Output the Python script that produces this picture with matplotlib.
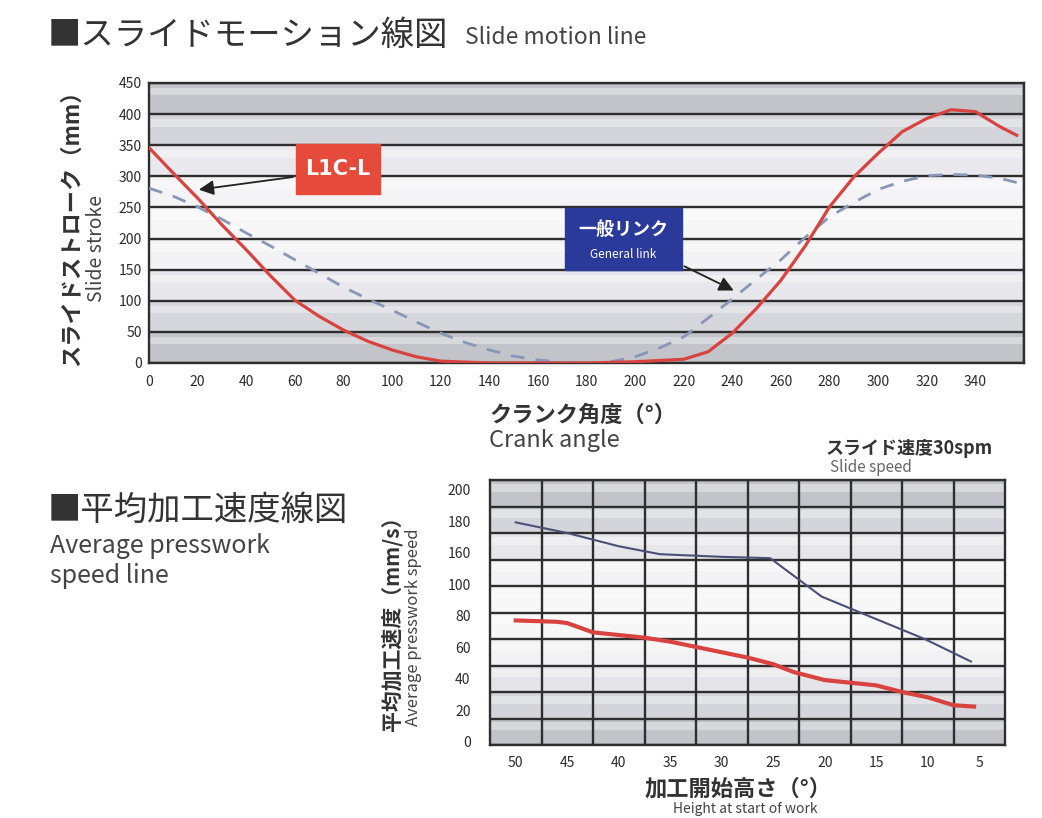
import numpy as np
import matplotlib.pyplot as plt
from matplotlib.patches import Rectangle

plt.rcParams['font.family'] = ['Noto Sans CJK JP', 'DejaVu Sans']

# --- slide motion line (top chart) ---
crank_deg = [0, 10, 20, 30, 40, 50, 60, 70, 80, 90, 100, 110, 120, 140, 160,
             180, 200, 210, 220, 230, 240, 250, 260, 270, 280, 290, 300, 310,
             320, 330, 340, 350, 357]
stroke_l1cl = [346, 305, 265, 222, 182, 140, 101, 75, 53, 35, 21, 10, 3, 0, 0,
               0, 2, 4, 6, 18, 48, 88, 133, 188, 251, 299, 337, 372,
               393, 407, 404, 380, 366]
link_deg = [0, 10, 20, 30, 40, 50, 60, 70, 80, 90, 100, 110, 120, 130, 140,
            150, 160, 170, 180, 190, 200, 210, 220, 230, 240, 250, 260, 270,
            280, 290, 300, 310, 320, 330, 340, 350, 357]
stroke_general = [281, 268, 251, 231, 209, 188, 166, 144, 122, 103, 85, 66, 48,
                  33, 21, 11, 5, 1, 0, 2, 10, 24, 42, 72, 103, 135, 166, 202,
                  235, 258, 279, 292, 301, 303, 302, 297, 290]
crank_ticks = list(range(0, 341, 20))
stroke_ticks = list(range(0, 451, 50))

# --- average presswork speed line (bottom chart) ---
height_general = [50, 45, 40, 36, 30, 25.3, 20.3, 15, 10.3, 5.8]
speed_general = [168, 160, 150, 144, 142, 141, 112, 95, 80, 63]
height_l1cl = [50, 46, 45, 42.5, 40, 37.5, 35, 32.5, 30, 27.5, 25, 23, 20,
               17.5, 15, 12.5, 10, 7.5, 5.5]
speed_l1cl = [94, 93, 92, 85, 83, 81, 78, 74, 70, 66, 61, 55, 49,
              47, 45, 40, 36, 30, 29]
height_ticks = [50, 45, 40, 35, 30, 25, 20, 15, 10, 5]
speed_tick_labels = ['0', '20', '40', '60', '80', '100', '160', '180', '200']

W, H = 1042, 818
fig = plt.figure(figsize=(W / 100, H / 100), dpi=100)


def fx(x):
    return x / W


def fy(y):
    return 1 - y / H


grid_c = '#2e2e2e'
red_c = '#d8433f'
tick_c = '#2a2a2a'

# ---------------- top chart ----------------
ax = fig.add_axes([fx(149), fy(363), fx(1024) - fx(149), fy(83) - fy(363)])
ax.set_xlim(0, 360)
ax.set_ylim(0, 450)
top_bands = ['#c3c4ca', '#d6d7dc', '#e8e8ec', '#f3f3f5', '#f7f7f8',
             '#f4f4f6', '#e9e9ed', '#d4d5da', '#c3c4ca']
for k, c in enumerate(top_bands):
    ax.axhspan(k * 50, k * 50 + 50, color=c, lw=0, zorder=0)
    ax.axhspan(k * 50 + 30, k * 50 + 42, color='white', alpha=0.35, lw=0, zorder=0)

ax.set_xticks(crank_ticks)
ax.set_xticks(range(0, 361, 20), minor=True)
ax.set_yticks(stroke_ticks)
ax.grid(True, which='minor', axis='x', color=grid_c, lw=1.7, zorder=1)
ax.grid(True, which='major', axis='y', color=grid_c, lw=1.7, zorder=1)
ax.tick_params(which='both', length=0)
ax.tick_params(axis='x', pad=9, labelsize=10, labelcolor=tick_c)
ax.tick_params(axis='y', pad=5, labelsize=10, labelcolor=tick_c)
for s in ax.spines.values():
    s.set_color(grid_c)
    s.set_linewidth(1.7)

ax.plot(link_deg, stroke_general, color='#8797b8', lw=2.0,
        dashes=(5, 4), zorder=3)
ax.plot(crank_deg, stroke_l1cl, color=red_c, lw=2.3, zorder=4)

# label boxes and arrows
ax.add_patch(Rectangle((60.3, 271.7), 34.7, 80.3, color='#e64a3b', zorder=5))
ax.text(77.7, 311, 'L1C-L', color='white', fontsize=15, fontweight='bold',
        ha='center', va='center', zorder=6, family='DejaVu Sans')
ax.annotate('', xy=(19.4, 278), xytext=(60.3, 299.5),
            arrowprops=dict(arrowstyle='-|>', color='#222222', lw=1.3,
                            mutation_scale=22), zorder=6)

ax.add_patch(Rectangle((171.2, 149.5), 48, 99.5, color='#2a3a9a', zorder=5))
ax.text(195.2, 215, '一般リンク', color='white', fontsize=13, fontweight='bold',
        ha='center', va='center', zorder=6)
ax.text(195.2, 174, 'General link', color='white', fontsize=8.5,
        ha='center', va='center', zorder=6)
ax.annotate('', xy=(241.6, 114.6), xytext=(219.2, 157.5),
            arrowprops=dict(arrowstyle='-|>', color='#222222', lw=1.3,
                            mutation_scale=22), zorder=6)

# ---------------- bottom chart ----------------
bx = fig.add_axes([fx(490), fy(745), fx(1005) - fx(490), fy(480) - fy(745)])
bx.set_xlim(52.5, 2.5)
bx.set_ylim(0, 200)
bottom_bands = ['#c3c4ca', '#d4d5da', '#e5e5e9', '#f2f2f4', '#f7f7f8',
                '#f7f7f8', '#f3f3f5', '#e7e7eb', '#d4d5da', '#c3c4ca']
for k, c in enumerate(bottom_bands):
    bx.axhspan(k * 20, k * 20 + 20, color=c, lw=0, zorder=0)
    bx.axhspan(k * 20 + 11, k * 20 + 17, color='white', alpha=0.35, lw=0, zorder=0)

bx.set_xticks(height_ticks)
bx.set_xticks(np.arange(7.5, 50, 5), minor=True)
bx.set_yticks(np.linspace(2.5, 192.5, len(speed_tick_labels)))
bx.set_yticklabels(speed_tick_labels)
bx.set_yticks(range(0, 201, 20), minor=True)
bx.grid(True, which='minor', color=grid_c, lw=1.7, zorder=1)
bx.grid(False, which='major')
bx.tick_params(which='both', length=0)
bx.tick_params(axis='x', pad=8, labelsize=10, labelcolor=tick_c)
bx.tick_params(axis='y', pad=14, labelsize=10, labelcolor=tick_c)
for s in bx.spines.values():
    s.set_color(grid_c)
    s.set_linewidth(1.7)

bx.plot(height_general, speed_general, color='#4b4f78', lw=1.5, zorder=3)
bx.plot(height_l1cl, speed_l1cl, color=red_c, lw=3, zorder=4)

# ---------------- titles and labels ----------------
fig.text(fx(48), fy(35), '■スライドモーション線図', fontsize=24, color='#333333',
         va='center', ha='left')
fig.text(fx(465), fy(37), 'Slide motion line', fontsize=16.5, color='#444444',
         va='center', ha='left')

fig.text(fx(72), fy(222), 'スライドストローク（mm）', fontsize=16, fontweight='bold',
         color='#333333', rotation=90, ha='center', va='center')
fig.text(fx(97), fy(248), 'Slide stroke', fontsize=14, color='#444444',
         rotation=90, ha='center', va='center')

fig.text(fx(489), fy(415), 'クランク角度（°）', fontsize=16, fontweight='bold',
         color='#333333', ha='left', va='center')
fig.text(fx(489), fy(441), 'Crank angle', fontsize=17, color='#444444',
         ha='left', va='center')

fig.text(fx(48), fy(510), '■平均加工速度線図', fontsize=24, color='#333333',
         va='center', ha='left')
fig.text(fx(50), fy(546), 'Average presswork', fontsize=18, color='#444444',
         va='center', ha='left')
fig.text(fx(50), fy(576), 'speed line', fontsize=18, color='#444444',
         va='center', ha='left')

fig.text(fx(826), fy(448), 'スライド速度30spm', fontsize=13, fontweight='bold',
         color='#333333', ha='left', va='center')
fig.text(fx(830), fy(467), 'Slide speed', fontsize=11, color='#666666',
         ha='left', va='center')

fig.text(fx(392), fy(618), '平均加工速度（mm/s）', fontsize=15, fontweight='bold',
         color='#333333', rotation=90, ha='center', va='center')
fig.text(fx(414), fy(627), 'Average presswork speed', fontsize=12, color='#444444',
         rotation=90, ha='center', va='center')

fig.text(fx(738), fy(789), '加工開始高さ（°）', fontsize=16, fontweight='bold',
         color='#333333', ha='center', va='center')
fig.text(fx(745), fy(816), 'Height at start of work', fontsize=10, color='#444444',
         ha='center', va='bottom')

fig.savefig('out.png', dpi=100, facecolor='white')
